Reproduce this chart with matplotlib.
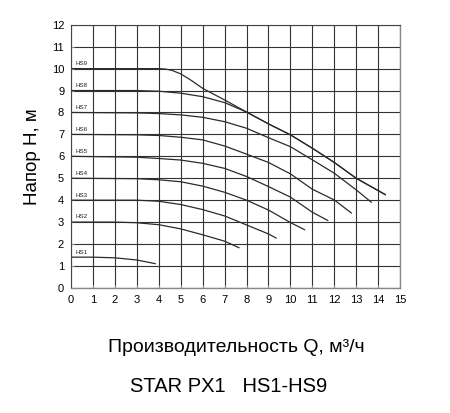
import matplotlib
matplotlib.use('Agg')
import matplotlib.pyplot as plt

plt.rcParams['font.family'] = ['Liberation Sans', 'DejaVu Sans']

# pump curves HS1..HS9, flow Q (m3/h) vs head H (m)
q_hs1 = [0, 1, 2, 3, 3.86]
h_hs1 = [1.4, 1.4, 1.37, 1.27, 1.1]
q_hs2 = [0, 2, 3, 4, 5, 6, 7, 7.68]
h_hs2 = [3.0, 3.0, 2.97, 2.88, 2.69, 2.42, 2.13, 1.82]
q_hs3 = [0, 3, 4, 5, 6, 7, 8, 9, 9.37]
h_hs3 = [4.0, 4.0, 3.95, 3.8, 3.57, 3.28, 2.87, 2.46, 2.26]
q_hs4 = [0, 3, 4, 5, 6, 7, 8, 9, 10, 10.67]
h_hs4 = [5.0, 4.98, 4.93, 4.84, 4.64, 4.36, 4.0, 3.55, 2.98, 2.64]
q_hs5 = [0, 3, 4, 5, 6, 7, 8, 9, 10, 11, 11.73]
h_hs5 = [6.0, 5.96, 5.9, 5.83, 5.68, 5.45, 5.08, 4.62, 4.14, 3.45, 3.06]
q_hs6 = [0, 3, 4, 5, 6, 7, 8, 9, 10, 11, 12, 12.8]
h_hs6 = [7.0, 6.98, 6.95, 6.87, 6.75, 6.47, 6.1, 5.72, 5.2, 4.5, 4.01, 3.4]
q_hs7 = [0, 3, 4, 5, 6, 7, 8, 9, 10, 11, 12, 13, 13.71]
h_hs7 = [8.0, 7.98, 7.95, 7.89, 7.78, 7.58, 7.28, 6.85, 6.44, 5.84, 5.23, 4.47, 3.89]
q_hs8 = [0, 3, 4, 5, 6, 7, 8, 9, 10, 11, 12, 13, 14.35]
h_hs8 = [9.0, 9.0, 8.97, 8.88, 8.72, 8.45, 8.02, 7.48, 6.98, 6.37, 5.72, 5.0, 4.24]
q_hs9 = [0, 3, 4, 4.3, 4.6, 5, 5.5, 6, 7, 8, 9, 10, 11, 12, 13, 14.35]
h_hs9 = [10.0, 10.0, 10.0, 9.98, 9.92, 9.76, 9.45, 9.1, 8.57, 8.02, 7.48, 6.98, 6.37, 5.72, 5.0, 4.24]

curves = [
    ('HS1', q_hs1, h_hs1),
    ('HS2', q_hs2, h_hs2),
    ('HS3', q_hs3, h_hs3),
    ('HS4', q_hs4, h_hs4),
    ('HS5', q_hs5, h_hs5),
    ('HS6', q_hs6, h_hs6),
    ('HS7', q_hs7, h_hs7),
    ('HS8', q_hs8, h_hs8),
    ('HS9', q_hs9, h_hs9),
]

x_ticks = list(range(0, 16))
y_ticks = list(range(0, 13))

fig = plt.figure(figsize=(4.5, 4.13), dpi=100)
ax = fig.add_axes([0.158, 0.303, 0.731, 0.637])

for name, q, h in curves:
    ax.plot(q, h, color='#2b2b2b', lw=0.9, solid_capstyle='butt')
    ax.text(0.2, h[0] + 0.12, name, fontsize=4.5, color='#1a1a40',
            ha='left', va='bottom')

ax.set_xlim(0, 15)
ax.set_ylim(0, 12)
ax.set_xticks(x_ticks)
ax.set_yticks(y_ticks)
ax.grid(True, color='#333333', lw=0.8)
ax.tick_params(axis='both', labelsize=8, length=2, width=0.6,
               color='#c8a070', direction='in', pad=5)

for side in ['left', 'top']:
    ax.spines[side].set_color('#444444')
for side in ['right', 'bottom']:
    ax.spines[side].set_color('#888888')
    ax.spines[side].set_linewidth(1.0)

ax.set_ylabel('Напор H, м', fontsize=13.5, labelpad=8)

fig.text(0.525, 1 - 348 / 413, 'Производительность Q, м³/ч', fontsize=14,
         ha='center', va='center')
fig.text(0.508, 1 - 386 / 413, 'STAR PX1   HS1-HS9', fontsize=14.5,
         ha='center', va='center')

fig.savefig('out.png', dpi=100)
